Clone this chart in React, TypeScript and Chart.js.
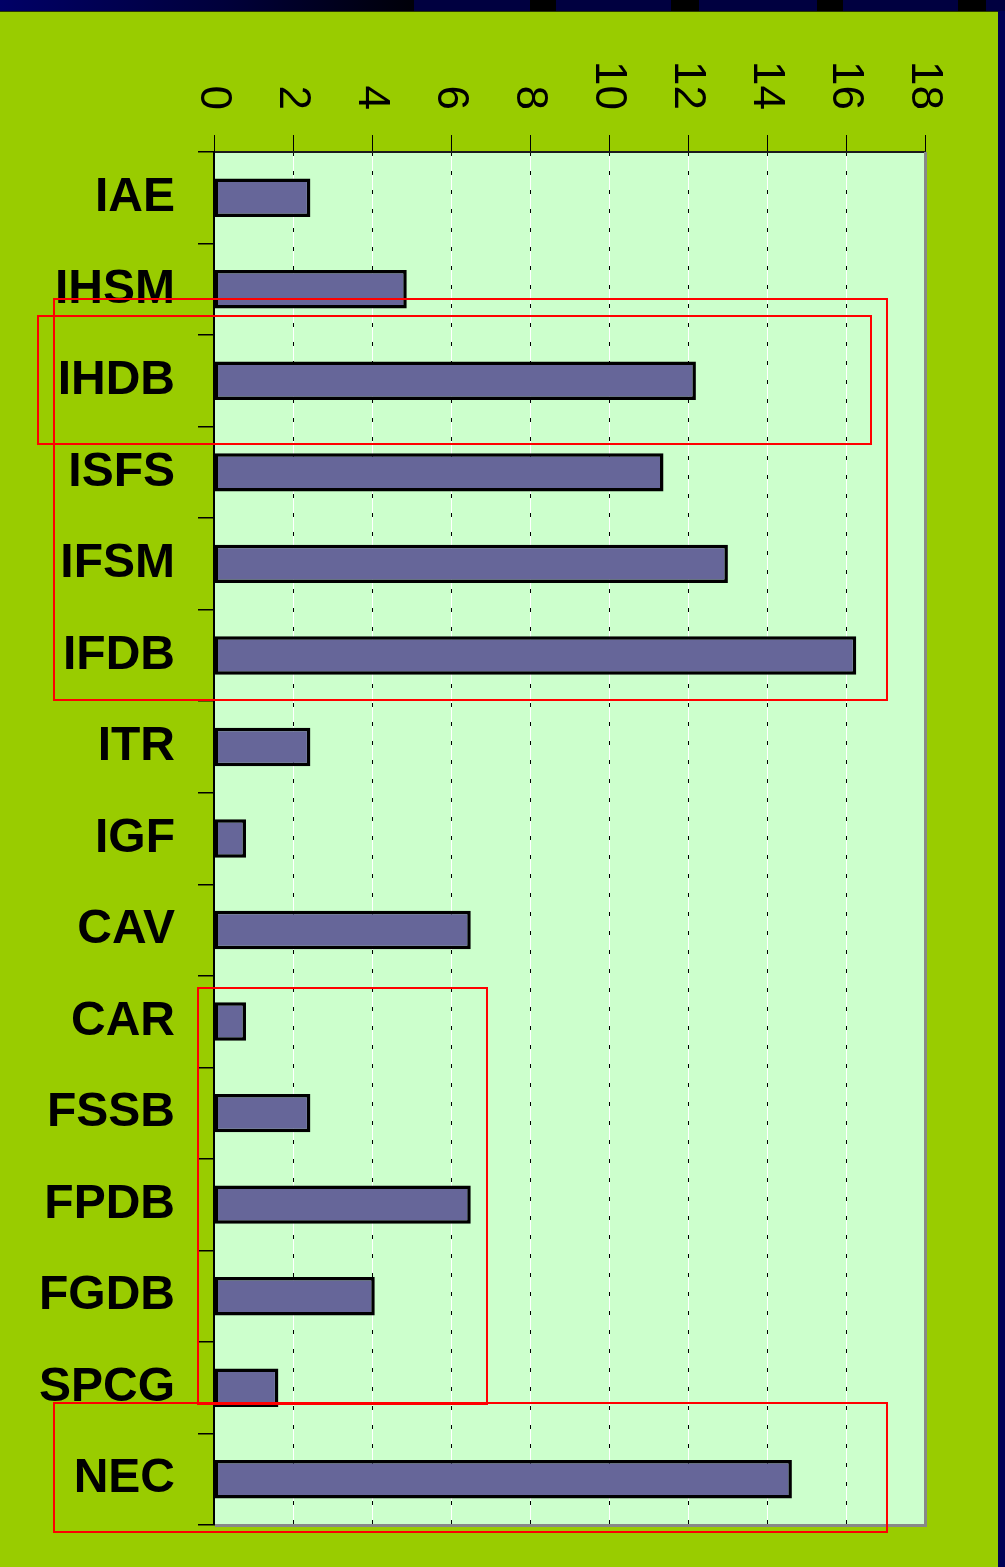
import React, { useEffect, useRef } from 'react';
import { Chart, registerables } from 'chart.js';

Chart.register(...registerables);

// ---- data ----
const categories = ['IAE', 'IHSM', 'IHDB', 'ISFS', 'IFSM', 'IFDB', 'ITR', 'IGF', 'CAV', 'CAR', 'FSSB', 'FPDB', 'FGDB', 'SPCG', 'NEC'];
const values = [2.44, 4.88, 12.2, 11.38, 13.01, 16.26, 2.44, 0.81, 6.5, 0.81, 2.44, 6.5, 4.07, 1.63, 14.63];
const xTickLabels = ['0', '2', '4', '6', '8', '10', '12', '14', '16', '18'];
const xMin = 0;
const xMax = 18;
const xStep = 2;

const FONT = '"Liberation Sans", Arial, Helvetica, sans-serif';

const plotBackground = {
  id: 'plotBackground',
  beforeDraw(chart: any) {
    const { ctx, chartArea: a } = chart;
    ctx.save();
    ctx.fillStyle = '#CCFFCC';
    ctx.fillRect(a.left, a.top, a.right - a.left, a.bottom - a.top);
    ctx.restore();
  },
};

const plotFrame = {
  id: 'plotFrame',
  afterDraw(chart: any) {
    const { ctx, chartArea: a } = chart;
    ctx.save();
    ctx.strokeStyle = '#888888';
    ctx.lineWidth = 3;
    ctx.beginPath();
    ctx.moveTo(a.right + 0.5, a.top);
    ctx.lineTo(a.right + 0.5, a.bottom + 0.5);
    ctx.lineTo(a.left + 1, a.bottom + 0.5);
    ctx.stroke();
    ctx.restore();
  },
};

const topTickLabels = {
  id: 'topTickLabels',
  afterDraw(chart: any) {
    const scale = chart.scales.x;
    const ctx = chart.ctx;
    ctx.save();
    ctx.font = `44px ${FONT}`;
    ctx.fillStyle = '#000000';
    ctx.textAlign = 'right';
    ctx.textBaseline = 'middle';
    scale.ticks.forEach((t: any, i: number) => {
      const x = scale.getPixelForValue(t.value);
      ctx.save();
      ctx.translate(x - 1, scale.bottom - 42);
      ctx.rotate(Math.PI / 2);
      ctx.fillText(xTickLabels[i] ?? String(t.value), 0, 0);
      ctx.restore();
    });
    ctx.restore();
  },
};

export default function App() {
  const canvasRef = useRef<HTMLCanvasElement | null>(null);

  useEffect(() => {
    if (!canvasRef.current) return;
    Chart.defaults.font.family = FONT;
    const chart = new Chart(canvasRef.current, {
      type: 'bar',
      data: {
        labels: categories,
        datasets: [
          {
            data: values,
            backgroundColor: '#666699',
            borderColor: '#000000',
            borderWidth: 3.5,
            borderSkipped: false,
            barPercentage: 0.42,
            categoryPercentage: 1,
          },
        ],
      },
      options: {
        animation: false,
        responsive: false,
        maintainAspectRatio: false,
        indexAxis: 'y',
        events: [],
        layout: { padding: { left: 0, right: 73, top: 0, bottom: 42 } },
        plugins: { legend: { display: false }, tooltip: { enabled: false } },
        scales: {
          x: {
            type: 'linear',
            position: 'top',
            min: xMin,
            max: xMax,
            ticks: { stepSize: xStep, display: false },
            grid: { color: '#ffffff', lineWidth: 1, tickColor: '#000000', tickLength: 17, tickWidth: 1, z: -1 },
            border: { color: '#1a1a1a', width: 2 },
            afterFit: (s: any) => {
              s.height = 141;
              s.paddingLeft = 0;
              s.paddingRight = 0;
            },
          },
          x2: {
            type: 'linear',
            position: 'top',
            min: xMin,
            max: xMax,
            ticks: { stepSize: xStep, display: false },
            grid: { color: '#000000', lineWidth: 1, drawTicks: false, z: -0.5 },
            border: { display: false, dash: [4, 15] },
            afterFit: (s: any) => {
              s.height = 0;
              s.paddingLeft = 0;
              s.paddingRight = 0;
            },
          },
          y: {
            type: 'category',
            position: 'left',
            ticks: { color: '#000000', font: { size: 48, weight: 'bold', family: FONT }, padding: 23 },
            grid: { drawOnChartArea: false, offset: true, color: '#000000', tickColor: '#000000', tickLength: 16, lineWidth: 1.5 },
            border: { color: '#000000', width: 2 },
            afterFit: (s: any) => {
              s.width = 214;
              s.paddingTop = 0;
              s.paddingBottom = 0;
            },
          },
        },
      } as any,
      plugins: [plotBackground, plotFrame, topTickLabels],
    });
    return () => chart.destroy();
  }, []);

  const redBox = (left: number, top: number, width: number, height: number) => (
    <div
      style={{
        position: 'absolute',
        left,
        top,
        width,
        height,
        boxSizing: 'border-box',
        border: '2px solid #FF0000',
        pointerEvents: 'none',
      }}
    />
  );

  const stripBlocks: [number, number][] = [
    [414, 530],
    [556, 671],
    [699, 817],
    [843, 958],
    [986, 1005],
  ];

  return (
    <div style={{ position: 'absolute', left: 0, top: 0, width: 1005, height: 1567, background: '#000000', overflow: 'hidden' }}>
      <div style={{ position: 'absolute', left: 0, top: 0, width: 414, height: 11, background: 'linear-gradient(to right, #000066, #00003a 55%, #000008)' }} />
      {stripBlocks.map(([a, b], i) => (
        <div key={i} style={{ position: 'absolute', left: a, top: 0, width: b - a, height: 11, background: '#000040' }} />
      ))}
      <div style={{ position: 'absolute', left: 998, top: 11, width: 7, height: 1556, background: '#000055' }} />
      <div style={{ position: 'absolute', left: 0, top: 11, width: 998, height: 1556, background: '#99CC00', borderTop: '1px solid #2a3a00', boxSizing: 'border-box' }} />
      <canvas
        ref={canvasRef}
        width={998}
        height={1556}
        style={{ position: 'absolute', left: 0, top: 11, width: 998, height: 1556 }}
      />
      {redBox(37, 315, 835, 130)}
      {redBox(53, 298, 835, 403)}
      {redBox(197, 987, 291, 418)}
      {redBox(53, 1402, 835, 131)}
    </div>
  );
}
